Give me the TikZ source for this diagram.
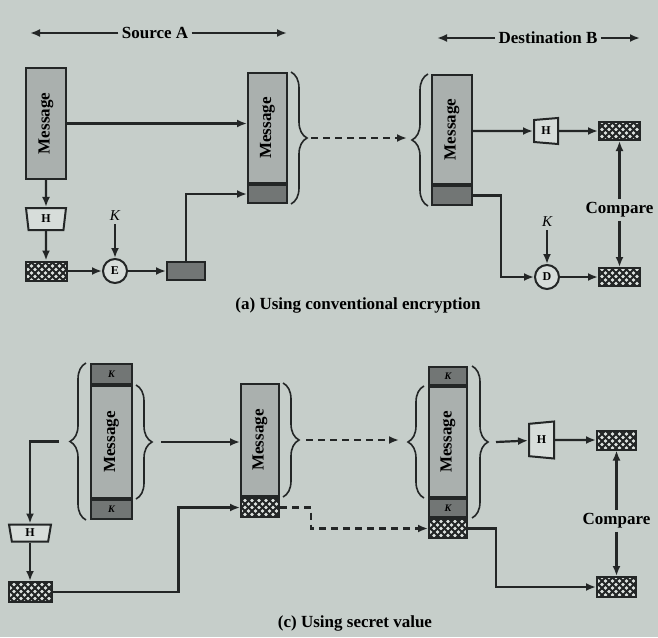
\documentclass[tikz,border=0pt]{standalone}
\usepackage{fontspec}
\usepackage{graphicx}
\setmainfont{Liberation Serif}
\usetikzlibrary{arrows.meta,shapes.geometric,decorations.pathreplacing,patterns.meta}
\definecolor{paper}{RGB}{198,206,202}
\definecolor{msgfill}{RGB}{170,176,174}
\definecolor{sigfill}{RGB}{114,118,117}
\definecolor{ink}{RGB}{35,38,38}
\tikzdeclarepattern{
  name=meshnet,
  type=uncolored,
  bottom left={(-1pt,-1pt)},
  top right={(8pt,8pt)},
  tile size={(7pt,7pt)},
  code={\draw[line width=1.8pt] (-1pt,-1pt) -- (8pt,8pt) (-1pt,8pt) -- (8pt,-1pt);}
}
\newcommand{\keyt}{\itshape\bfseries\fontsize{10}{12}\selectfont}

\begin{document}
\begin{tikzpicture}[x=1pt,y=-1pt,>={Latex[length=10pt,width=8pt]},
  font=\bfseries\fontsize{17}{20}\selectfont,
  seg/.style={draw=ink,line width=2pt,inner sep=0,fill=msgfill},
  sig/.style={seg,fill=sigfill},
  hash/.style={draw=ink,line width=2pt,inner sep=0,fill=paper!60!white,postaction={pattern=meshnet,pattern color=ink}},
  op/.style={circle,draw=ink,line width=2pt,fill=paper!70!white,minimum size=24,inner sep=0,font=\bfseries\fontsize{12}{14}\selectfont},
  hfun/.style={trapezium,draw=ink,line width=2pt,fill=paper!70!white,inner sep=0,trapezium stretches body,font=\bfseries\fontsize{12}{14}\selectfont},
  keyl/.style={font=\itshape\fontsize{15}{18}\selectfont},
  link/.style={draw=ink,line width=2.2pt,->},
  wire/.style={link,dash pattern=on 7pt off 5pt},
  brc/.style={draw=ink,line width=1.6pt,decorate,decoration={brace,amplitude=16pt}}]
\fill[paper] (0,0) rectangle (658,637);
\useasboundingbox (0,0) rectangle (658,637);

\node (srcA) at (155,33) {Source A};
\coordinate (srcL) at (30,33);
\coordinate (srcR) at (287,33);
\draw[link] (srcA) -- (srcL);
\draw[link] (srcA) -- (srcR);
\node (dstB) at (548,38) {Destination B};
\coordinate (dstL) at (437,38);
\coordinate (dstR) at (640,38);
\draw[link] (dstB) -- (dstL);
\draw[link] (dstB) -- (dstR);

% (a)
\node[seg,minimum width=40,minimum height=111] (m1) at (46,123.5) {\rotatebox{90}{Message}};
\node[hfun,shape border rotate=180,minimum width=40,minimum height=22,trapezium angle=72] (h1) at (46,219) {H};
\node[hash,minimum width=41,minimum height=19] (x1) at (46,271) {};
\node[op] (e1) at (115,271) {E};
\node[keyl] (k1) at (115,216) {K};
\node[sig,minimum width=38,minimum height=18] (c1) at (186,271) {};
\node[seg,minimum width=39,minimum height=110] (m2) at (267.5,128) {\rotatebox{90}{Message}};
\node[sig,minimum width=39,minimum height=18,anchor=north] (s2) at (m2.south) {};
\draw[link] (m1) -- (m1 -| m2.west);
\draw[link] (m1) -- (h1);
\draw[link] (h1) -- (x1);
\draw[link] (x1) -- (e1);
\draw[link] (k1) -- (e1);
\draw[link] (e1) -- (c1);
\draw[link] (c1.north) |- (s2.west);
\draw[brc] ([xshift=3]m2.north east) -- coordinate[midway,xshift=20] (t2) ([xshift=3]s2.south east);

\node[seg,minimum width=40,minimum height=109] (m3) at (452,129.5) {\rotatebox{90}{Message}};
\node[sig,minimum width=40,minimum height=19,anchor=north] (s3) at (m3.south) {};
\draw[brc] ([xshift=-3]s3.south west) -- coordinate[midway,xshift=-21] (t3) ([xshift=-3]m3.north west);
\draw[wire] (t2) -- (t2 -| t3);
\node[hfun,shape border rotate=90,minimum width=26,minimum height=24,trapezium angle=78] (h2) at (546,131) {H};
\node[hash,minimum width=41,minimum height=18] (x2) at (619.5,131) {};
\node[op] (d1) at (547,277) {D};
\node[keyl] (k2) at (547,222) {K};
\node[hash,minimum width=41,minimum height=18] (x3) at (619.5,277) {};
\node (cp1) at (619.5,210) {Compare};
\draw[link] (h2 -| m3.east) -- (h2);
\draw[link] (h2) -- (x2);
\draw[link] (s3.east) -- ++(28,0) |- (d1);
\draw[link] (k2) -- (d1);
\draw[link] (d1) -- (x3);
\draw[link] (cp1) -- (x2);
\draw[link] (cp1) -- (x3);
\node (capA) at (358,305) {(a) Using conventional encryption};

% (c)
\node[sig,minimum width=41,minimum height=20] (kA1) at (111.5,374) {\keyt K};
\node[seg,minimum width=41,minimum height=112,anchor=north] (mA) at (kA1.south) {\rotatebox{90}{Message}};
\node[sig,minimum width=41,minimum height=19,anchor=north] (kA2) at (mA.south) {\keyt K};
\draw[brc] ([xshift=-4]kA2.south west) -- coordinate[midway,xshift=-27] (tA1) ([xshift=-4]kA1.north west);
\draw[brc] ([xshift=3]mA.north east) -- coordinate[midway,xshift=25] (tA2) ([xshift=3]mA.south east);
\node[hfun,shape border rotate=180,minimum width=42,minimum height=17,trapezium angle=70] (h3) at (30,533) {H};
\node[hash,minimum width=43,minimum height=20] (x4) at (30,592) {};
\draw[link] (tA1) -| (h3);
\draw[link] (h3) -- (x4);

\node[seg,minimum width=38,minimum height=112] (mB) at (260,440) {\rotatebox{90}{Message}};
\node[hash,minimum width=38,minimum height=19,anchor=north] (hB) at (mB.south) {};
\draw[link] (tA2) -- (tA2 -| mB.west);
\draw[link] (x4.east) -- ++(126,0) |- (hB.west);
\draw[brc] ([xshift=3]mB.north east) -- coordinate[midway,xshift=23] (tB) ([xshift=3]mB.south east);

\node[sig,minimum width=38,minimum height=18] (kC1) at (448,376) {\keyt K};
\node[seg,minimum width=38,minimum height=110,anchor=north] (mC) at (kC1.south) {\rotatebox{90}{Message}};
\node[sig,minimum width=38,minimum height=18,anchor=north] (kC2) at (mC.south) {\keyt K};
\node[hash,minimum width=38,minimum height=19,anchor=north] (hC) at (kC2.south) {};
\draw[brc] ([xshift=-4]mC.south west) -- coordinate[midway,xshift=-25] (tC1) ([xshift=-4]mC.north west);
\draw[brc] ([xshift=4]kC1.north east) -- coordinate[midway,xshift=24] (tC2) ([xshift=4]kC2.south east);
\draw[wire] (tB) -- (tB -| tC1);
\draw[wire] (hB.east) -- ++(31,0) |- (hC.west);

\node[hfun,shape border rotate=90,minimum width=37,minimum height=25,trapezium angle=76] (h4) at (541.5,440) {H};
\node[hash,minimum width=39,minimum height=19] (x5) at (616.5,440) {};
\node[hash,minimum width=39,minimum height=20] (x6) at (616.5,587) {};
\node (cp2) at (616.5,521) {Compare};
\draw[link] (tC2) -- (h4);
\draw[link] (h4) -- (x5);
\draw[link] (hC.east) -- ++(28,0) |- (x6);
\draw[link] (cp2) -- (x5);
\draw[link] (cp2) -- (x6);
\node (capC) at (355,623) {(c) Using secret value};
\end{tikzpicture}
\end{document}
